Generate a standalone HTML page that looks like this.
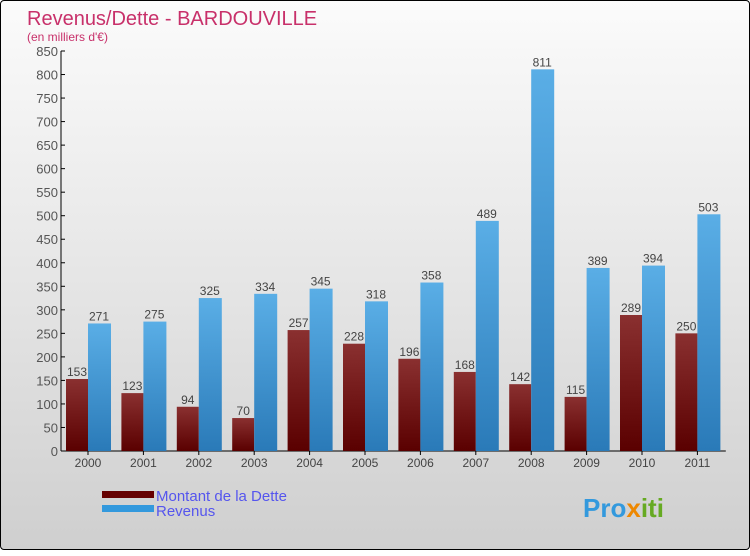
<!DOCTYPE html>
<html><head><meta charset="utf-8"><style>
body{margin:0;width:750px;height:550px;overflow:hidden;font-family:"Liberation Sans",sans-serif}
#wrap{position:absolute;left:0;top:0;width:748px;height:548px;border:1px solid #000;border-radius:4px;background:linear-gradient(#fbfbfb,#e6e6e6 50%,#cfcfcf)}
</style></head><body>
<div id="wrap">
<svg width="750" height="550">
<defs>
<linearGradient id="gd" x1="0" y1="0" x2="0" y2="1"><stop offset="0" stop-color="#8a3030"/><stop offset="1" stop-color="#5a0000"/></linearGradient>
<linearGradient id="gr" x1="0" y1="0" x2="0" y2="1"><stop offset="0" stop-color="#5aaee6"/><stop offset="1" stop-color="#2a7ab8"/></linearGradient>
</defs>
<text x="26" y="24" font-size="20" fill="#c8306a">Revenus/Dette - BARDOUVILLE</text>
<text x="26" y="40" font-size="12" fill="#c8306a">(en milliers d'€)</text>
<g id="axes"></g><g id="bars"></g>
<g>
<rect x="101" y="490" width="52" height="7" fill="#660000"/>
<text x="155" y="500" font-size="15" fill="#5555ee">Montant de la Dette</text>
<rect x="101" y="504" width="52" height="7" fill="#3399dd"/>
<text x="155" y="515" font-size="15" fill="#5555ee">Revenus</text>
</g>
<text x="582" y="516" font-size="26" font-weight="bold" fill="#3399dd">Pro<tspan fill="#ee8800">x</tspan><tspan fill="#66aa22">iti</tspan></text>
</svg></div>
<script>
const years=["2000","2001","2002","2003","2004","2005","2006","2007","2008","2009","2010","2011"];
const dette=[153,123,94,70,257,228,196,168,142,115,289,250];
const revenus=[271,275,325,334,345,318,358,489,811,389,394,503];
const ticks=[0,50,100,150,200,250,300,350,400,450,500,550,600,650,700,750,800,850];
const NS="http://www.w3.org/2000/svg";
const y0=450,x0=60,step=55.4,yMax=850,h=400;
const y=v=>y0-v/yMax*h;
const ax=document.getElementById('axes'),bg=document.getElementById('bars');
function mk(t,a,p){const e=document.createElementNS(NS,t);for(const k in a)e.setAttribute(k,a[k]);p.appendChild(e);return e;}
let l=mk('line',{x1:x0,y1:y(yMax),x2:x0,y2:y0,stroke:'#000'},ax);


l=mk('line',{x1:x0,y1:y0,x2:x0+step*12,y2:y0,stroke:'#000'},ax);


ticks.forEach(t=>{
 mk('line',{x1:x0,y1:y(t),x2:x0+4,y2:y(t),stroke:'#000'},ax);
 const e=mk('text',{x:x0-3,y:y(t)+5,'font-size':13,fill:'#555','text-anchor':'end'},ax);e.textContent=t;
 
 
});
years.forEach((yr,i)=>{
 const gx=x0+step*i;
 const t=mk('text',{x:gx+27,y:466,'font-size':12,fill:'#444','text-anchor':'middle'},ax);t.textContent=yr;
 
 
 mk('line',{x1:gx+27,y1:y0,x2:gx+27,y2:y0+4,stroke:'#000'},ax);
 const b1=mk('rect',{x:gx+5,y:y(dette[i]),width:22,height:y0-y(dette[i]),fill:'url(#gd)'},bg);
 
 
 const b2=mk('rect',{x:gx+27,y:y(revenus[i]),width:23,height:y0-y(revenus[i]),fill:'url(#gr)'},bg);
 
 
 const v1=mk('text',{x:gx+16,y:y(dette[i])-3,'font-size':12,fill:'#444','text-anchor':'middle'},bg);v1.textContent=dette[i];
 
 
 const v2=mk('text',{x:gx+38,y:y(revenus[i])-3,'font-size':12,fill:'#444','text-anchor':'middle'},bg);v2.textContent=revenus[i];
 
 
});
</script>
</body></html>
